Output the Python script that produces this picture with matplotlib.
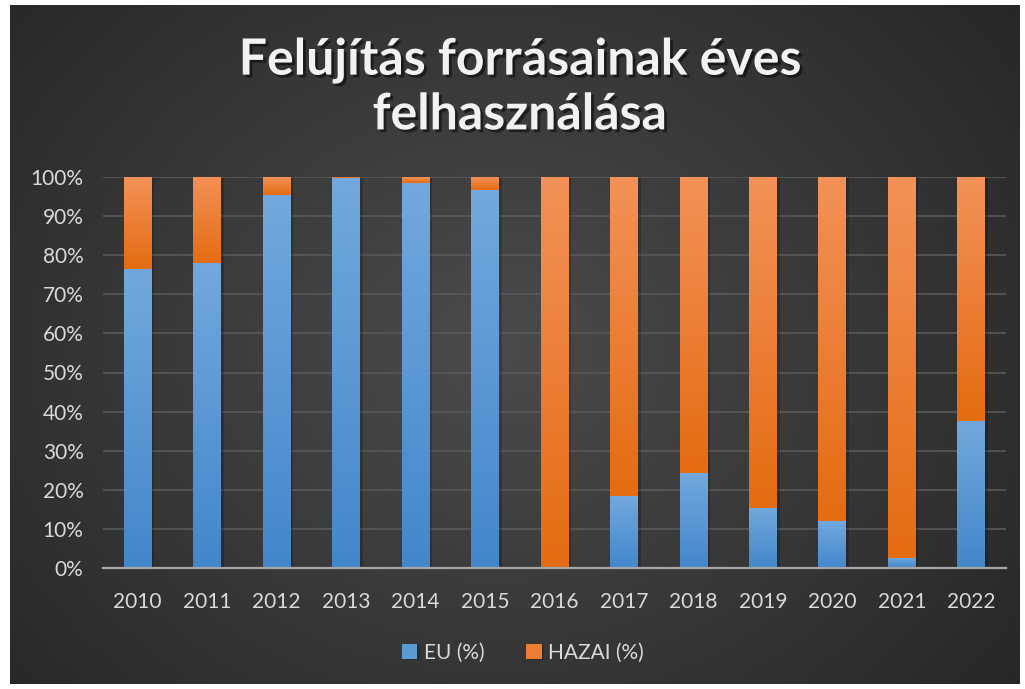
import numpy as np
import matplotlib
matplotlib.use("Agg")
import matplotlib.pyplot as plt
import matplotlib.patheffects as pe

years = ["2010", "2011", "2012", "2013", "2014", "2015", "2016",
         "2017", "2018", "2019", "2020", "2021", "2022"]
eu_pct = [76.5, 78.0, 95.4, 99.7, 98.5, 96.7, 0.3,
          18.4, 24.3, 15.4, 12.0, 2.6, 37.6]
hazai_pct = [100 - v for v in eu_pct]

title_text = "Felújítás forrásainak éves\nfelhasználása"
legend_labels = ["EU (%)", "HAZAI (%)"]

plt.rcParams["font.family"] = ["Lato", "DejaVu Sans"]

fig = plt.figure(figsize=(10.25, 6.89), dpi=100)
fig.patch.set_facecolor("white")

# dark radial background
bg = fig.add_axes([10 / 1025, 5 / 689, 1010 / 1025, 679 / 689])
yy, xx = np.mgrid[0:1:300j, 0:1:450j]
r = np.sqrt(((xx - 0.48) / 0.6) ** 2 + ((yy - 0.5) / 0.75) ** 2)
shade = np.clip(0.295 - 0.13 * r, 0.155, 0.295)
bg.imshow(np.dstack([shade, shade, shade]), aspect="auto", extent=[0, 1, 0, 1])
bg.set_axis_off()

ax = fig.add_axes([103 / 1025, 121 / 689, 903 / 1025, 391 / 689])
ax.patch.set_alpha(0)
x = np.arange(len(years))
width = 0.40


def gradient_bars(bars, top_col, bot_col):
    grad = np.linspace(0, 1, 64)[:, None]
    top = np.array(matplotlib.colors.to_rgb(top_col))
    bot = np.array(matplotlib.colors.to_rgb(bot_col))
    img = top[None, None, :] * (1 - grad[..., None]) + bot[None, None, :] * grad[..., None]
    for b in bars:
        h = b.get_height()
        if h <= 0:
            continue
        x0, y0 = b.get_x(), b.get_y()
        im = ax.imshow(img, aspect="auto", extent=[x0, x0 + b.get_width(), y0, y0 + h],
                       zorder=3, interpolation="bilinear")
        im.set_clip_path(b)


shadow = [pe.SimplePatchShadow(offset=(2, -1), shadow_rgbFace="black", alpha=0.2), pe.Normal()]
b1 = ax.bar(x, eu_pct, width, color="#5b9bd5", zorder=3, path_effects=shadow, label=legend_labels[0])
b2 = ax.bar(x, hazai_pct, width, bottom=eu_pct, color="#ed7d31", zorder=3, path_effects=shadow,
            label=legend_labels[1])
gradient_bars(b1, "#72a8dd", "#4387cb")
gradient_bars(b2, "#f39158", "#e46c12")

ax.set_xlim(-0.5, len(years) - 0.5)
ax.set_ylim(0, 100)
ax.set_yticks(np.arange(0, 101, 10))
ax.set_yticklabels([f"{v}%" for v in range(0, 101, 10)])
ax.set_xticks(x)
ax.set_xticklabels(years)
ax.tick_params(length=0, colors="#d9d9d9", labelsize=15)
ax.tick_params(axis="x", pad=17)
ax.tick_params(axis="y", pad=14)
ax.grid(axis="y", color="#595959", lw=1.2, zorder=0)
for s in ["top", "right", "left"]:
    ax.spines[s].set_visible(False)
ax.spines["bottom"].set_color("#a6a6a6")
ax.spines["bottom"].set_linewidth(1.6)
ax.spines["bottom"].set_zorder(4)

fig.text(0.507, 0.873, title_text, ha="center", va="center", fontsize=36, fontweight="bold",
         color="#f2f2f2", linespacing=1.25,
         path_effects=[pe.withSimplePatchShadow(offset=(2, -2), shadow_rgbFace="black", alpha=0.5)])

leg = fig.legend(handles=[b1, b2], labels=legend_labels, loc="center", bbox_to_anchor=(0.51, 0.053),
                 ncol=2, frameon=False, fontsize=15, labelcolor="#d9d9d9",
                 handlelength=0.75, handleheight=0.75, handletextpad=0.3, columnspacing=2.0)

fig.savefig("out.png", dpi=100, facecolor=fig.get_facecolor())
